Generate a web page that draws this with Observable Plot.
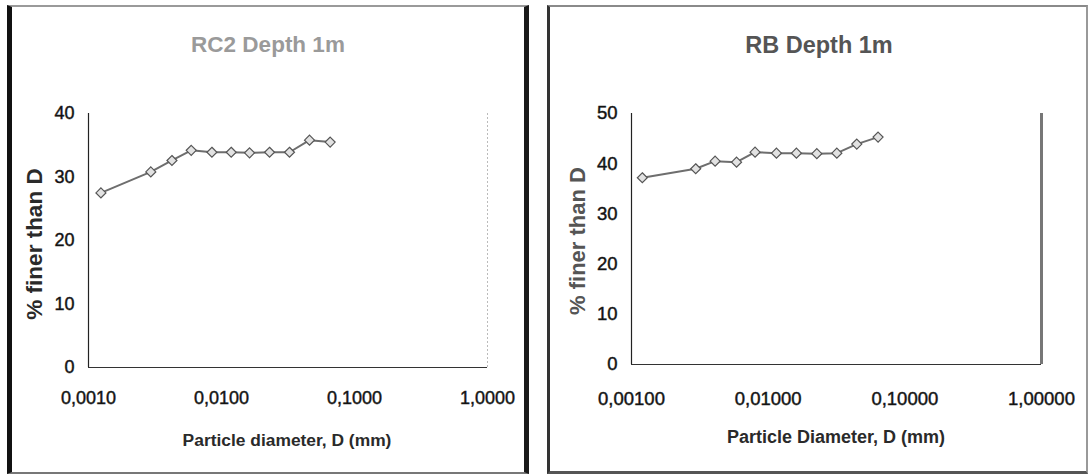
<!DOCTYPE html>
<html>
<head>
<meta charset="utf-8">
<script src="https://cdn.jsdelivr.net/npm/d3@7"></script>
<script src="https://cdn.jsdelivr.net/npm/@observablehq/plot@0.6"></script>
<style>
  html, body { margin: 0; padding: 0; background: #fff; }
  #root { position: relative; width: 1090px; height: 476px; overflow: hidden; background: #fff; font-family: "Liberation Sans", Arial, sans-serif; }
  .panel { position: absolute; box-sizing: border-box; }
  .abs { position: absolute; white-space: nowrap; }
  .title { font-weight: bold; transform: translate(-50%, -50%); }
  .xlab { font-weight: bold; color: #2a2a2a; transform: translate(-50%, -50%); }
  .ylab { font-weight: bold; color: #2a2a2a; transform: translate(-50%, -50%) rotate(-90deg); }
  #root svg g[aria-label$="tick label"] text { stroke: #1a1a1a; stroke-width: 0.45px; }
</style>
</head>
<body>
<div id="root"></div>
<script>
// ---- data ----
const rc2Diameter = [0.00124, 0.00294, 0.00424, 0.00592, 0.00847, 0.01183, 0.01625, 0.02297, 0.03245, 0.0459, 0.0656];
const rc2Finer    = [27.5, 30.8, 32.6, 34.2, 33.9, 33.9, 33.8, 33.9, 33.9, 35.8, 35.5];
const rbDiameter  = [0.00120, 0.00295, 0.00409, 0.00587, 0.00802, 0.0115, 0.0161, 0.0227, 0.0318, 0.0445, 0.0637];
const rbFiner     = [37.2, 39.0, 40.5, 40.3, 42.3, 42.1, 42.1, 42.0, 42.1, 43.9, 45.3];
const xTicks = [0.001, 0.01, 0.1, 1];
const rc2YTicks = [0, 10, 20, 30, 40];
const rbYTicks = [0, 10, 20, 30, 40, 50];
const rc2Title = "RC2 Depth 1m";
const rbTitle = "RB Depth 1m";
const rc2XLabel = "Particle diameter, D (mm)";
const rbXLabel = "Particle Diameter, D (mm)";
const yLabel = "% finer than D";

const root = document.getElementById("root");

function addDiv(cls, text, css) {
  const d = document.createElement("div");
  d.className = cls;
  if (text != null) d.textContent = text;
  Object.assign(d.style, css);
  root.appendChild(d);
  return d;
}

// panel frames (scanned borders)
addDiv("panel", null, {left: "7px", top: "5px", width: "522px", height: "469px",
  borderLeft: "5px solid #111", borderRight: "5px solid #1a1a1a",
  borderTop: "2px solid #9a9a9a", borderBottom: "2px solid #777"});
addDiv("panel", null, {left: "547px", top: "5px", width: "541px", height: "469px",
  borderLeft: "3px solid #333", borderRight: "2px solid #999",
  borderTop: "2px solid #8a8a8a", borderBottom: "3px solid #555"});

function makeChart({diam, finer, yMax, yTicks, decimals, width, marginLeft, marginRight, marginBottom, fontSize, tickPadX, edgeStroke, edgeWidth}) {
  const data = diam.map((d, i) => ({d, f: finer[i]}));
  return Plot.plot({
    width, height: 476,
    marginLeft, marginRight, marginTop: 113, marginBottom,
    style: {fontFamily: "Liberation Sans, Arial, sans-serif", color: "#111", background: "transparent"},
    x: {type: "log", domain: [0.001, 1], axis: null},
    y: {domain: [0, yMax], axis: null},
    marks: [
      Plot.axisX({ticks: xTicks, tickFormat: v => v.toFixed(decimals).replace(".", ","), tickSize: 0, tickPadding: tickPadX, fontSize, fill: "#111", label: null}),
      Plot.axisY({ticks: yTicks, tickSize: 0, tickPadding: 14, fontSize, fill: "#111", label: null}),
      Plot.ruleX([1], {stroke: edgeStroke, strokeWidth: edgeWidth, strokeDasharray: edgeWidth > 2 ? null : "2,2"}),
      Plot.ruleX([0.001], {stroke: "#222", strokeWidth: 1.2}),
      Plot.ruleY([0], {stroke: "#333", strokeWidth: 1.2}),
      Plot.line(data, {x: "d", y: "f", stroke: "#6e6e6e", strokeWidth: 2}),
      Plot.dot(data, {x: "d", y: "f", symbol: "diamond2", r: 4.5, fill: "#e2e2e2", stroke: "#555", strokeWidth: 1.2})
    ]
  });
}

const left = makeChart({diam: rc2Diameter, finer: rc2Finer, yMax: 40, yTicks: rc2YTicks, decimals: 4,
  width: 520, marginLeft: 88, marginRight: 33, marginBottom: 109, fontSize: 18, tickPadX: 24,
  edgeStroke: "#bbb", edgeWidth: 1});
left.style.position = "absolute"; left.style.left = "0px"; left.style.top = "0px";
root.appendChild(left);

const right = makeChart({diam: rbDiameter, finer: rbFiner, yMax: 50, yTicks: rbYTicks, decimals: 5,
  width: 545, marginLeft: 86, marginRight: 49, marginBottom: 112, fontSize: 18.5, tickPadX: 27,
  edgeStroke: "#777", edgeWidth: 3});
right.style.position = "absolute"; right.style.left = "545px"; right.style.top = "0px";
root.appendChild(right);

// titles and axis titles
addDiv("abs title", rc2Title, {left: "268px", top: "45px", fontSize: "22.5px", color: "#9a9a9a"});
addDiv("abs title", rbTitle, {left: "819px", top: "45px", fontSize: "23.5px", color: "#555"});
addDiv("abs xlab", rc2XLabel, {left: "287px", top: "440px", fontSize: "17.4px"});
addDiv("abs xlab", rbXLabel, {left: "836px", top: "437px", fontSize: "18px"});
addDiv("abs ylab", yLabel, {left: "35px", top: "244px", fontSize: "22.5px"});
addDiv("abs ylab", yLabel, {left: "578px", top: "241px", fontSize: "22px", color: "#555"});
</script>
</body>
</html>
